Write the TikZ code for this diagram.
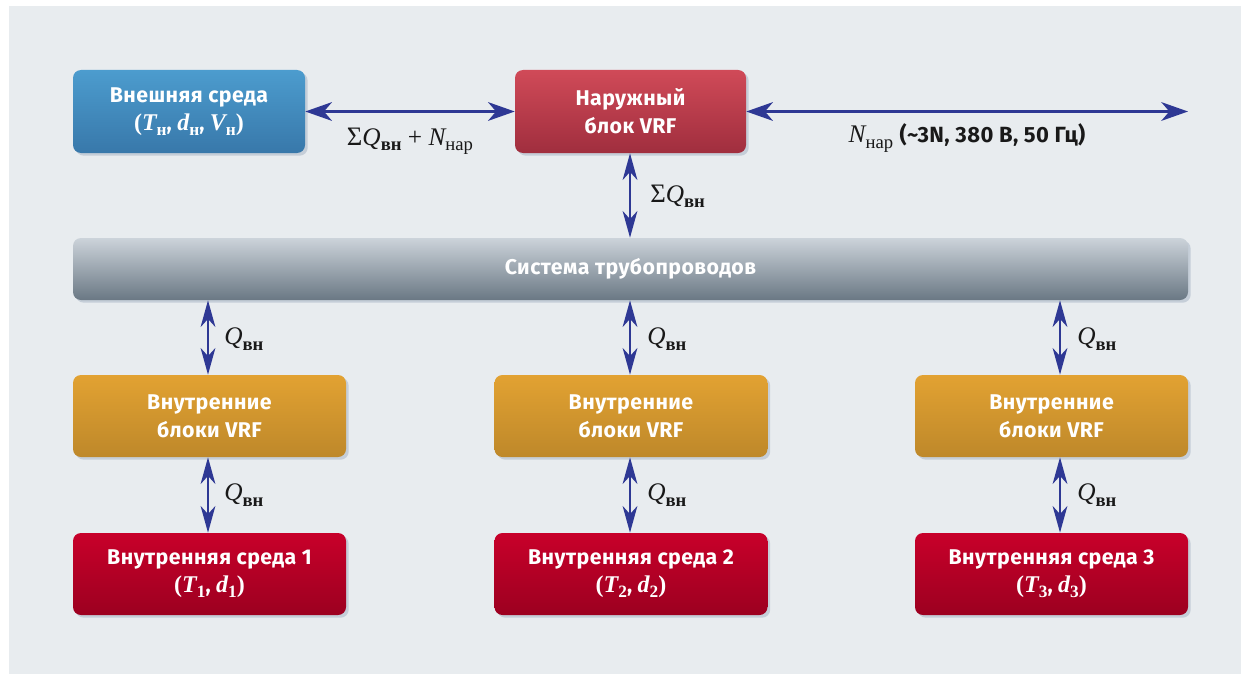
\documentclass[tikz,border=0pt]{standalone}
\usepackage{fontspec}
\usetikzlibrary{arrows.meta,shadows,calc}
\newfontfamily\boxfont[LetterSpace=2]{Fira Sans}
\newfontfamily\mfont{Liberation Serif}
\definecolor{panel}{HTML}{E8ECEF}
\definecolor{arr}{HTML}{2E3894}
\definecolor{shad}{HTML}{C5CED8}
\newcommand{\sbs}[1]{\raisebox{-0.45ex}{\fontsize{14}{14}\selectfont\mfont #1}}
\newcommand{\bsbs}[1]{\raisebox{-0.45ex}{\fontsize{14}{14}\selectfont\mfont\bfseries #1}}
\newcommand{\iv}[1]{{\mfont\itshape #1}}
\newcommand{\sgm}{{\mfont\fontsize{20}{20}\selectfont Σ}}
\newcommand{\bm}[1]{{\mfont\fontsize{18}{20}\selectfont #1}}
\newcommand{\bsb}[1]{\raisebox{-0.45ex}{\fontsize{13}{13}\selectfont\mfont #1}}
\tikzset{
  box/.style={rounded corners=6pt, minimum width=#1, inner sep=0pt, align=center,
    text=white, font=\boxfont\bfseries\fontsize{16}{21}\selectfont,
    drop shadow={shadow xshift=2pt, shadow yshift=-2pt, opacity=1, fill=shad}},
  bluebox/.style={box=#1, top color={rgb,255:red,76;green,156;blue,206}, bottom color={rgb,255:red,56;green,120;blue,170}, minimum height=62.25pt},
  redbox/.style={box=#1, top color={rgb,255:red,208;green,74;blue,88}, bottom color={rgb,255:red,160;green,46;blue,62}, minimum height=62.25pt},
  pipebox/.style={box=#1, top color={rgb,255:red,204;green,211;blue,218}, bottom color={rgb,255:red,106;green,120;blue,132}, minimum height=46.5pt},
  orbox/.style={box=#1, top color={rgb,255:red,226;green,162;blue,50}, bottom color={rgb,255:red,190;green,136;blue,42}, minimum height=61.5pt},
  envbox/.style={box=#1, top color={rgb,255:red,200;green,0;blue,42}, bottom color={rgb,255:red,156;green,0;blue,32}, minimum height=61.5pt},
  harr/.style={arr, line width=2.2pt, {Stealth[length=20pt,width=14pt,inset=6pt]}-{Stealth[length=20pt,width=14pt,inset=6pt]}},
  varr/.style={arr, line width=2.2pt, {Stealth[length=20pt,width=11pt,inset=6pt]}-{Stealth[length=20pt,width=11pt,inset=6pt]}},
  lbl/.style={font=\mfont\fontsize{19}{19}\selectfont, inner sep=0pt, text=black!90},
}
\begin{document}
\begin{tikzpicture}[x=0.75pt,y=-0.75pt]
\useasboundingbox (0,0) rectangle (1241,674);
\fill[white] (0,0) rectangle (1241,674);
\fill[panel] (9,6) rectangle (1241,674);

\node[bluebox=174pt] (ext) at (189,111.5) {Внешняя среда\\\bm{(\iv{T}\bsb{н}}, \bm{\iv{d}\bsb{н}}, \bm{\iv{V}\bsb{н})}};
\node[redbox=173.25pt] (out) at (630.5,111.5) {Наружный\\блок VRF};
\node[pipebox=836.25pt] (pipe) at (630.5,269) {Система трубопроводов};

\node[orbox=204.75pt] (in1) at (209.5,416) {Внутренние\\блоки VRF};
\node[orbox=204.75pt] (in2) at (631,416) {Внутренние\\блоки VRF};
\node[orbox=204.75pt] (in3) at (1051.5,416) {Внутренние\\блоки VRF};

\node[envbox=204.75pt] (env1) at (209.5,574) {Внутренняя среда 1\\\bm{(\iv{T}\bsb{1}}, \bm{\iv{d}\bsb{1})}};
\node[envbox=204.75pt] (env2) at (631,574) {Внутренняя среда 2\\\bm{(\iv{T}\bsb{2}}, \bm{\iv{d}\bsb{2})}};
\node[envbox=204.75pt] (env3) at (1051.5,574) {Внутренняя среда 3\\\bm{(\iv{T}\bsb{3}}, \bm{\iv{d}\bsb{3})}};

\coordinate (pwr) at (1188,111.5);
\coordinate (c1) at (208,0);
\coordinate (c2) at (630,0);
\coordinate (c3) at (1060,0);

\draw[harr] (ext.east) -- (out.west);
\draw[harr] (out.east) -- (pwr);
\draw[varr] (out.south -| c2) -- (pipe.north -| c2);
\draw[varr] (pipe.south -| c1) -- (in1.north -| c1);
\draw[varr] (pipe.south -| c2) -- (in2.north -| c2);
\draw[varr] (pipe.south -| c3) -- (in3.north -| c3);
\draw[varr] (in1.south -| c1) -- (env1.north -| c1);
\draw[varr] (in2.south -| c2) -- (env2.north -| c2);
\draw[varr] (in3.south -| c3) -- (env3.north -| c3);

\node[lbl] (l1) at (410,141) {\sgm\iv{Q}\bsbs{вн} + \iv{N}\sbs{нар}};
\node[lbl] (l2) at (967,138) {\iv{N}\sbs{нар} {\boxfont\bfseries\fontsize{16.5}{16.5}\selectfont (\textasciitilde 3N, 380 В, 50 Гц)}};
\node[lbl, anchor=west] (l3) at (650,196) {\sgm\iv{Q}\bsbs{вн}};
\node[lbl, anchor=west] (q1) at (224,339) {\iv{Q}\bsbs{вн}};
\node[lbl, anchor=west] (q2) at (647,339) {\iv{Q}\bsbs{вн}};
\node[lbl, anchor=west] (q3) at (1077,339) {\iv{Q}\bsbs{вн}};
\node[lbl, anchor=west] (q4) at (224,495) {\iv{Q}\bsbs{вн}};
\node[lbl, anchor=west] (q5) at (647,495) {\iv{Q}\bsbs{вн}};
\node[lbl, anchor=west] (q6) at (1077,495) {\iv{Q}\bsbs{вн}};
\end{tikzpicture}
\end{document}
